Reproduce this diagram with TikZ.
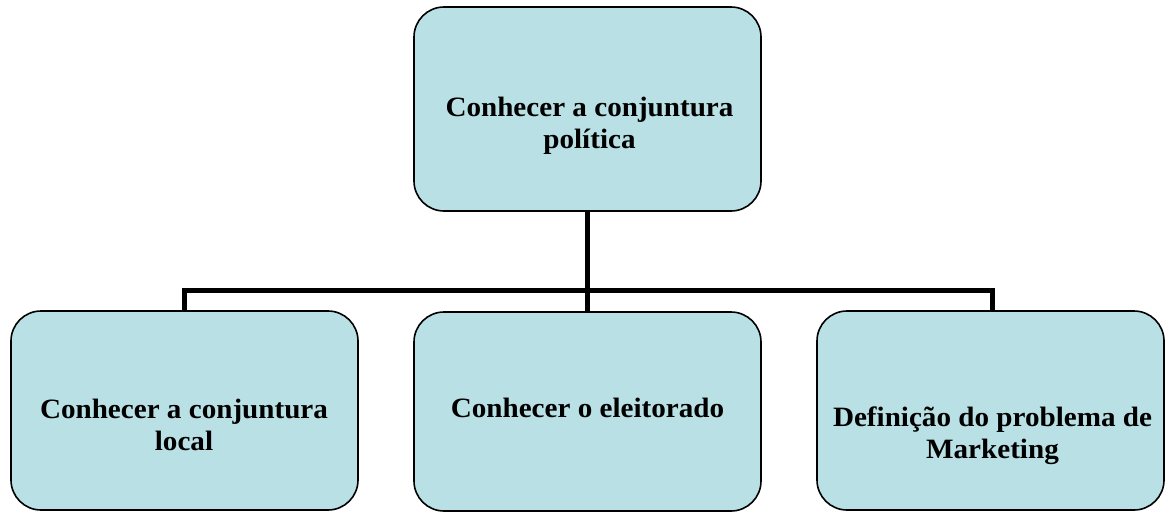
\documentclass[tikz,border=0pt]{standalone}
\usepackage{fontspec}
\setmainfont{Liberation Serif}[FakeStretch=1.04]
\usepackage{tikz}
\definecolor{boxfill}{RGB}{185,224,228}

\begin{document}
\begin{tikzpicture}[x=1pt,y=-1pt,
    box/.style={draw,line width=1.6pt,fill=boxfill,rounded corners=30pt,
      minimum width=347pt,minimum height=199pt,inner sep=0pt},
    caption/.style={font=\fontsize{28}{32}\selectfont\bfseries,
      align=center,anchor=base,inner sep=0pt},
    link/.style={line width=5pt}]
    \useasboundingbox (0,0) rectangle (1165,512);

    % boxes
    \node[box,minimum height=204pt] (top) at (587.5,109) {};
    \node[box] (left) at (184.5,410.5) {};
    \node[box] (mid) at (587.5,411.5) {};
    \node[box] (right) at (990.5,410.5) {};

    % texts (base = last line)
    \node[caption] (topText) at (589.5,148) {Conhecer a conjuntura\\política};
    \node[caption] (leftText) at (184,450) {Conhecer a conjuntura\\local};
    \node[caption] (midText) at (587.5,417) {Conhecer o eleitorado};
    \node[caption] (rightText) at (992.5,458) {Definição do problema de\\Marketing};

    % connectors
    \coordinate (bus) at (587.5,290);
    \draw[link] (top.south) -- (mid.north);
    \draw[link] ([xshift=-0.5pt]left.north) -- ([xshift=-0.5pt]left.north |- bus)
      -| ([xshift=1.5pt]right.north);
  \end{tikzpicture}
\end{document}
